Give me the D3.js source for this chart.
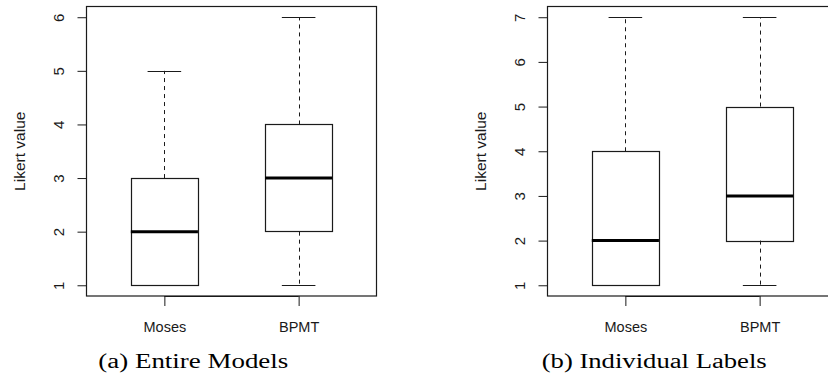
<!DOCTYPE html>
<html>
<head>
<meta charset="utf-8">
<script src="https://cdn.jsdelivr.net/npm/d3@7"></script>
<style>
  html, body { margin: 0; padding: 0; background: #fff; }
  svg { display: block; }
</style>
</head>
<body>
<svg id="chart" width="828" height="377"></svg>
<script>
// ---- data ----
const categories = ["Moses", "BPMT"];
const panelTitles = ["(a) Entire Models", "(b) Individual Labels"];

const entireMin    = [1, 1];
const entireQ1     = [1, 2];
const entireMedian = [2, 3];
const entireQ3     = [3, 4];
const entireMax    = [5, 6];
const entireTicks  = [1, 2, 3, 4, 5, 6];

const labelsMin    = [1, 1];
const labelsQ1     = [1, 2];
const labelsMedian = [2, 3];
const labelsQ3     = [4, 5];
const labelsMax    = [7, 7];
const labelsTicks  = [1, 2, 3, 4, 5, 6, 7];

const yAxisTitle = "Likert value";

// ---- layout ----
const svg = d3.select("#chart");
const plotLeft = 86.5, plotWidth = 290, plotTop = 6.5, plotBottom = 296;
const panelOffsets = [0, 461];
const ink = "#1a1a1a";

const panels = [
  { title: panelTitles[0], min: entireMin, q1: entireQ1, med: entireMedian, q3: entireQ3, max: entireMax, ticks: entireTicks, titleX: 193.3, titleLen: 190 },
  { title: panelTitles[1], min: labelsMin, q1: labelsQ1, med: labelsMedian, q3: labelsQ3, max: labelsMax, ticks: labelsTicks, titleX: 654.2 - 461, titleLen: 225 }
];

panels.forEach((p, i) => {
  const g = svg.append("g").attr("transform", `translate(${panelOffsets[i]},0)`);
  const lo = d3.min(p.ticks), hi = d3.max(p.ticks);
  const pad = (hi - lo) * 0.04;
  const y = d3.scaleLinear().domain([lo - pad, hi + pad]).range([plotBottom, plotTop]);
  const x = d3.scaleLinear().domain([0.42, 2.58]).range([plotLeft, plotLeft + plotWidth]);
  const pos = categories.map((c, k) => k + 1);

  // y axis
  const ya = g.append("g").attr("transform", `translate(${plotLeft},0)`)
    .call(d3.axisLeft(y).tickValues(p.ticks).tickSize(9).tickSizeOuter(0).tickFormat(d3.format("d")));
  ya.select(".domain").remove();
  ya.selectAll(".tick line").attr("stroke", ink);
  ya.selectAll(".tick text")
    .attr("x", null).attr("dy", null)
    .attr("transform", "translate(-28,0) rotate(-90)")
    .attr("dy", "0.36em")
    .attr("text-anchor", "middle")
    .attr("fill", ink)
    .style("font-family", "'Liberation Sans', Arial, sans-serif")
    .style("font-size", "15px");

  // x axis
  const xa = g.append("g").attr("transform", `translate(0,${plotBottom})`)
    .call(d3.axisBottom(x).tickValues(pos).tickSize(10).tickSizeOuter(0).tickFormat((d) => categories[d - 1]));
  xa.select(".domain").attr("stroke", ink).attr("d", `M${x(1)},0.5H${x(2)}`);
  xa.selectAll(".tick line").attr("stroke", ink);
  xa.selectAll(".tick text")
    .attr("y", 36).attr("dy", null)
    .attr("fill", ink)
    .style("font-family", "'Liberation Sans', Arial, sans-serif")
    .style("font-size", "14.5px");

  // y axis title
  g.append("text")
    .attr("transform", `translate(19,${(plotTop + plotBottom) / 2}) rotate(-90)`)
    .attr("dy", "0.36em")
    .attr("text-anchor", "middle")
    .attr("fill", ink)
    .style("font-family", "'Liberation Sans', Arial, sans-serif")
    .style("font-size", "15.5px")
    .text(yAxisTitle);

  // boxes
  const boxHalf = 0.25, capHalf = 0.125;
  pos.forEach((c, k) => {
    const bx = g.append("g");
    const cx = Math.round(x(c)) + 0.5;
    // whiskers (dashed)
    bx.append("line")
      .attr("x1", cx).attr("x2", cx)
      .attr("y1", y(p.q3[k])).attr("y2", y(p.max[k]))
      .attr("stroke", ink).attr("stroke-dasharray", "4,4");
    bx.append("line")
      .attr("x1", cx).attr("x2", cx)
      .attr("y1", y(p.q1[k])).attr("y2", y(p.min[k]))
      .attr("stroke", ink).attr("stroke-dasharray", "4,4");
    // caps
    [p.min[k], p.max[k]].forEach((v) => {
      bx.append("line")
        .attr("x1", x(c - capHalf)).attr("x2", x(c + capHalf))
        .attr("y1", Math.round(y(v)) + 0.5).attr("y2", Math.round(y(v)) + 0.5)
        .attr("stroke", ink).attr("stroke-width", 1.2);
    });
    // box
    bx.append("rect")
      .attr("x", Math.round(x(c - boxHalf)) + 0.5)
      .attr("y", Math.round(y(p.q3[k])) + 0.5)
      .attr("width", Math.round(x(c + boxHalf) - x(c - boxHalf)))
      .attr("height", Math.round(y(p.q1[k]) - y(p.q3[k])))
      .attr("fill", "none").attr("stroke", ink).attr("stroke-width", 1.2);
    // median
    bx.append("line")
      .attr("x1", x(c - boxHalf)).attr("x2", x(c + boxHalf))
      .attr("y1", y(p.med[k])).attr("y2", y(p.med[k]))
      .attr("stroke", "#000").attr("stroke-width", 3);
  });

  // plot frame
  g.append("rect")
    .attr("x", plotLeft).attr("y", plotTop)
    .attr("width", plotWidth).attr("height", plotBottom - plotTop)
    .attr("fill", "none").attr("stroke", ink).attr("stroke-width", 1.2);

  // caption
  g.append("text")
    .attr("x", p.titleX).attr("y", 367.5)
    .attr("text-anchor", "middle")
    .attr("textLength", p.titleLen)
    .attr("lengthAdjust", "spacingAndGlyphs")
    .attr("fill", "#000")
    .style("font-family", "'Liberation Serif', 'Times New Roman', serif")
    .style("font-size", "20px")
    .text(p.title);
});
</script>
</body>
</html>
